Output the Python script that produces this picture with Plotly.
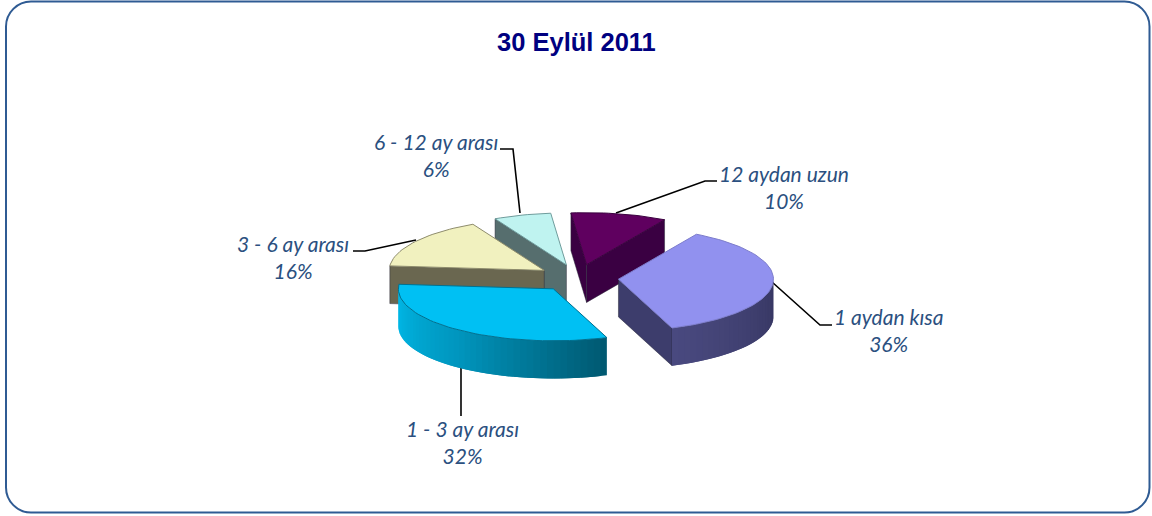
import math
import plotly.graph_objects as go

# --- data ---
categories = ["1 aydan kısa", "1 - 3 ay arası", "3 - 6 ay arası", "6 - 12 ay arası", "12 aydan uzun"]
percents = [36, 32, 16, 6, 10]
title_text = "30 Eylül 2011"

# --- style ---
top_colors = ["#9191EF", "#00C0F3", "#F1F1BF", "#BFF3F0", "#5F005F"]
face_colors = ["#3D3D6C", "#00607A", "#6A6750", "#566E6E", "#3A0042"]
edge_colors = ["#7C7CCB", "#00708F", "#8E8C6C", "#6F9C9C", "#3A003F"]
# rim gradient: colour at the slice's first angle -> middle -> last angle
rim_colors = [
    [(54, 54, 98), (56, 56, 100), (74, 74, 128)],
    [(0, 88, 112), (0, 150, 190), (0, 190, 238)],
    [(106, 103, 80), (106, 103, 80), (106, 103, 80)],
    [(86, 110, 110), (86, 110, 110), (86, 110, 110)],
    [(58, 0, 66), (58, 0, 66), (58, 0, 66)],
]
TEXT = "#2B5080"
W, H = 1152, 516
start_angle = 30.2      # degrees, clockwise from "up"
pull = 0.262            # explosion, in pie radii
depth = 0.725           # thickness, in pie radii on the squashed y axis
cx_px, cy_px = 578, 278 # pie centre on the page
rx_px, ry_px = 155, 52  # pixels per pie radius on each axis

draw_order = [4, 3, 2, 0, 1]


def pt(deg, ox=0.0, oy=0.0, r=1.0):
    a = math.radians(deg)
    return ox + r * math.sin(a), oy + r * math.cos(a)


def mix(stops, t):
    if t < 0.5:
        a, b, u = stops[0], stops[1], t * 2
    else:
        a, b, u = stops[1], stops[2], (t - 0.5) * 2
    return "rgb(%d,%d,%d)" % tuple(a[i] + (b[i] - a[i]) * u for i in range(3))


def poly(fig, xs, ys, fill, line=None, width=0.6):
    fig.add_trace(go.Scatter(
        x=xs + xs[:1], y=ys + ys[:1], mode="lines", fill="toself", fillcolor=fill,
        line=dict(color=line or fill, width=width), hoverinfo="skip", showlegend=False))


total = sum(percents)
spans, ang = [], start_angle
for v in percents:
    sweep = 360.0 * v / total
    spans.append((ang, ang + sweep))
    ang += sweep

fig = go.Figure()
for i in draw_order:
    a0, a1 = spans[i]
    ox, oy = pt((a0 + a1) / 2, r=pull)
    # straight cut faces that look towards the viewer
    for a, visible in ((a0, math.sin(math.radians(a0)) < 0), (a1, math.sin(math.radians(a1)) > 0)):
        if visible:
            ex, ey = pt(a, ox, oy)
            poly(fig, [ox, ex, ex, ox], [oy, ey, ey - depth, oy - depth], face_colors[i], "#2A2A3A", 0.5)
    # curved rim, front half only; each strip runs under the next so no seams show
    n = max(2, int((a1 - a0) / 2.5))
    for k in range(n):
        b0 = a0 + (a1 - a0) * k / n
        b1 = a0 + (a1 - a0) * (k + 1) / n
        if math.cos(math.radians((b0 + b1) / 2)) < 0:
            b2 = min(a1, b1 + (b1 - b0))
            mid = (b0 + b2) / 2
            pts = [pt(b0, ox, oy), pt(mid, ox, oy), pt(b2, ox, oy)]
            xs = [p[0] for p in pts] + [p[0] for p in reversed(pts)]
            ys = [p[1] for p in pts] + [p[1] - depth for p in reversed(pts)]
            poly(fig, xs, ys, mix(rim_colors[i], (k + 0.5) / n), width=0)
    # top
    m = max(4, int((a1 - a0) / 2))
    arc = [pt(a0 + (a1 - a0) * k / m, ox, oy) for k in range(m + 1)]
    poly(fig, [ox] + [p[0] for p in arc], [oy] + [p[1] for p in arc], top_colors[i], edge_colors[i], 1)


def px(x):
    return x / W


def py(y):
    return 1 - y / H


leaders = [
    [(772, 282), (820, 325), (832, 325)],
    [(461, 368), (461, 416)],
    [(416, 240), (365, 251), (353, 251)],
    [(520, 213), (513, 149), (500, 149)],
    [(616, 213), (705, 181), (717, 181)],
]
label_xy = [(888, 330), (462, 442), (293, 257), (436, 155), (784, 187)]

shapes = []
for path in leaders:
    d = "M" + " L".join(f"{px(x):.5f},{py(y):.5f}" for x, y in path)
    shapes.append(dict(type="path", xref="paper", yref="paper", path=d, layer="below",
                       line=dict(color="black", width=1.6)))

# rounded frame
L, T, R, B, r = 6, 1.5, 1149.5, 512.5, 25
k = 0.45 * r
frame = (f"M{px(L+r):.5f},{py(T):.5f} L{px(R-r):.5f},{py(T):.5f} "
         f"C{px(R-k):.5f},{py(T):.5f} {px(R):.5f},{py(T+k):.5f} {px(R):.5f},{py(T+r):.5f} "
         f"L{px(R):.5f},{py(B-r):.5f} "
         f"C{px(R):.5f},{py(B-k):.5f} {px(R-k):.5f},{py(B):.5f} {px(R-r):.5f},{py(B):.5f} "
         f"L{px(L+r):.5f},{py(B):.5f} "
         f"C{px(L+k):.5f},{py(B):.5f} {px(L):.5f},{py(B-k):.5f} {px(L):.5f},{py(B-r):.5f} "
         f"L{px(L):.5f},{py(T+r):.5f} "
         f"C{px(L):.5f},{py(T+k):.5f} {px(L+k):.5f},{py(T):.5f} {px(L+r):.5f},{py(T):.5f} Z")
shapes.append(dict(type="path", xref="paper", yref="paper", path=frame, layer="below",
                   line=dict(color="#2F5B93", width=2)))

annotations = [dict(
    x=px(x), y=py(y), xref="paper", yref="paper", xanchor="center", yanchor="middle",
    showarrow=False, align="center",
    text=f"<i>{c}<br>{v}%</i>",
    font=dict(family="Lato, Open Sans, sans-serif", size=21, color=TEXT))
    for c, v, (x, y) in zip(categories, percents, label_xy)]
annotations.append(dict(
    x=px(576), y=py(42), xref="paper", yref="paper", xanchor="center", yanchor="middle",
    showarrow=False, text=f"<b>{title_text}</b>",
    font=dict(family="Liberation Sans, Arial, sans-serif", size=25.5, color="#000080")))

fig.update_layout(
    width=W, height=H, margin=dict(l=0, r=0, t=0, b=0),
    paper_bgcolor="white", plot_bgcolor="rgba(0,0,0,0)", showlegend=False,
    xaxis=dict(visible=False, range=[-cx_px / rx_px, (W - cx_px) / rx_px], fixedrange=True),
    yaxis=dict(visible=False, range=[(cy_px - H) / ry_px, cy_px / ry_px], fixedrange=True),
    shapes=shapes, annotations=annotations,
)
fig.write_html("out.html", post_script="document.body.style.margin='0';document.body.style.overflow='hidden';",
               config=dict(displayModeBar=False))
